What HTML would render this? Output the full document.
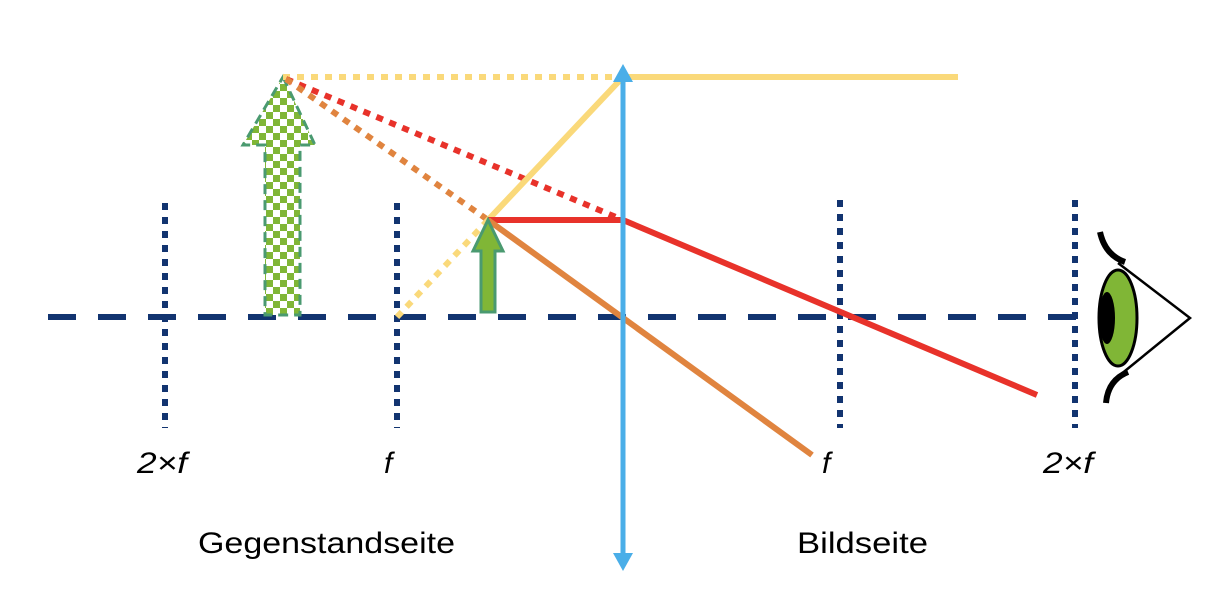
<!DOCTYPE html>
<html><head><meta charset="utf-8"><style>
html,body{margin:0;padding:0;background:#fff;width:1228px;height:592px;overflow:hidden}
svg{display:block}
text{font-family:"Liberation Sans",sans-serif;fill:#000}
</style></head><body>
<svg width="1228" height="592" viewBox="0 0 1228 592">
<defs>
<pattern id="chk" width="14" height="14" patternUnits="userSpaceOnUse">
<rect width="14" height="14" fill="#fff"/>
<rect width="7" height="7" fill="#80b636"/><rect x="7" y="7" width="7" height="7" fill="#80b636"/>
</pattern>
</defs>
<line x1="48" y1="317" x2="1085" y2="317" stroke="#123470" stroke-width="6" stroke-dasharray="28 22"/>
<g stroke="#123470" stroke-width="6" stroke-dasharray="7 7">
<line x1="165" y1="203" x2="165" y2="428"/>
<line x1="397" y1="203" x2="397" y2="428"/>
<line x1="840" y1="200" x2="840" y2="428"/>
<line x1="1075" y1="200" x2="1075" y2="428"/>
</g>
<path d="M283,77 L315,145 L300,145 L300,315 L265,315 L265,145 L243,145 Z" fill="url(#chk)" stroke="#4a9a70" stroke-width="3" stroke-dasharray="10 6"/>
<g stroke-width="6" fill="none">
<line x1="283" y1="77" x2="623" y2="77" stroke="#fad97a" stroke-dasharray="7 7"/>
<line x1="286" y1="79" x2="623" y2="220" stroke="#e8322a" stroke-dasharray="7 7"/>
<line x1="286" y1="79" x2="488" y2="220" stroke="#e0843f" stroke-dasharray="7 7"/>
<line x1="397" y1="317" x2="488" y2="220" stroke="#fad97a" stroke-dasharray="7 7"/>
<polyline points="488,220 623,77 958,77" stroke="#fad97a"/>
<polyline points="488,220 623,220 1037,395" stroke="#e8322a"/>
<line x1="488" y1="220" x2="812" y2="455" stroke="#e0843f"/>
</g>
<g>
<line x1="623" y1="80" x2="623" y2="556" stroke="#4aaee8" stroke-width="5"/>
<path d="M623,64 L633,82 L613,82 Z" fill="#4aaee8"/>
<path d="M623,571 L633,553 L613,553 Z" fill="#4aaee8"/>
</g>
<path d="M488,220 L503,251 L495,251 L495,312 L481,312 L481,251 L473,251 Z" fill="#80b636" stroke="#4a9a70" stroke-width="3"/>
<g stroke="#000" fill="none">
<path d="M1100,232 Q1105,255 1125,262" stroke-width="6"/>
<path d="M1106,403 Q1108,380 1128,372" stroke-width="6"/>
<path d="M1118,263 L1190,318 L1120,375" stroke-width="2.5"/>
<ellipse cx="1118" cy="318" rx="19" ry="48" fill="#80b636" stroke-width="3"/>
<ellipse cx="1107" cy="318" rx="8" ry="26" fill="#000" stroke="none"/>
</g>
<g font-style="italic" font-size="30">
<text x="137" y="473" textLength="50" lengthAdjust="spacingAndGlyphs">2×f</text>
<text x="384" y="473">f</text>
<text x="822" y="473">f</text>
<text x="1043" y="473" textLength="50" lengthAdjust="spacingAndGlyphs">2×f</text>
</g>
<text x="198" y="553" font-size="30" textLength="257" lengthAdjust="spacingAndGlyphs">Gegenstandseite</text>
<text x="797" y="553" font-size="30" textLength="131" lengthAdjust="spacingAndGlyphs">Bildseite</text>
</svg>
</body></html>
